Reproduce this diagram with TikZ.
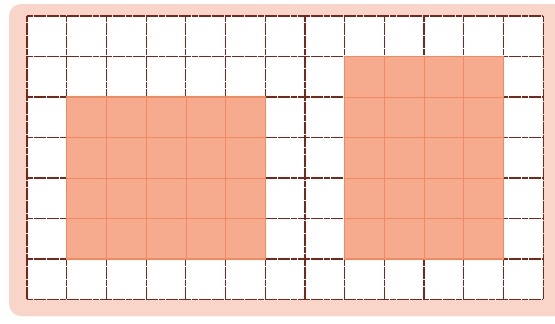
\documentclass[tikz,border=0pt]{standalone}
\definecolor{bgpink}{HTML}{F8D5C8}
\definecolor{shade}{HTML}{F7AB8E}
\definecolor{gridline}{HTML}{7A2618}
\definecolor{innerline}{HTML}{F28A5E}
\tikzset{
  darkline/.style={draw=gridline, line width=1.2pt, dash pattern=on 6pt off 0.6pt},
  lightline/.style={draw=innerline, line width=0.6pt},
  shadebox/.style={fill=shade, draw=innerline, line width=1.1pt}
}
\begin{document}
\begin{tikzpicture}[x=1pt,y=-1pt]
\useasboundingbox (0,0) rectangle (555,324);
\fill[white] (0,0) rectangle (555,324);
\fill[bgpink, rounded corners=12pt] (9,4) rectangle (575,316);
\def\ox{27}\def\oy{16}\def\cw{39.7}\def\ch{40.5}
\fill[white] (\ox,\oy) rectangle ({\ox+13*\cw},{\oy+7*\ch});
% dark grid
\foreach \i in {0,...,13}
  \draw[darkline] ({\ox+\i*\cw},\oy) -- ({\ox+\i*\cw},{\oy+7*\ch});
\foreach \j in {0,...,7}
  \draw[darkline] (\ox,{\oy+\j*\ch}) -- ({\ox+13*\cw},{\oy+\j*\ch});
% shaded left block: columns 1..6, rows 2..6
\fill[shadebox] ({\ox+1*\cw},{\oy+2*\ch}) rectangle ({\ox+6*\cw},{\oy+6*\ch});
\foreach \i in {2,...,5}
  \draw[lightline] ({\ox+\i*\cw},{\oy+2*\ch}) -- ({\ox+\i*\cw},{\oy+6*\ch});
\foreach \j in {3,...,5}
  \draw[lightline] ({\ox+1*\cw},{\oy+\j*\ch}) -- ({\ox+6*\cw},{\oy+\j*\ch});
% shaded right block: columns 8..12, rows 1..6
\fill[shadebox] ({\ox+8*\cw},{\oy+1*\ch}) rectangle ({\ox+12*\cw},{\oy+6*\ch});
\foreach \i in {9,...,11}
  \draw[lightline] ({\ox+\i*\cw},{\oy+1*\ch}) -- ({\ox+\i*\cw},{\oy+6*\ch});
\foreach \j in {2,...,5}
  \draw[lightline] ({\ox+8*\cw},{\oy+\j*\ch}) -- ({\ox+12*\cw},{\oy+\j*\ch});
\end{tikzpicture}
\end{document}
